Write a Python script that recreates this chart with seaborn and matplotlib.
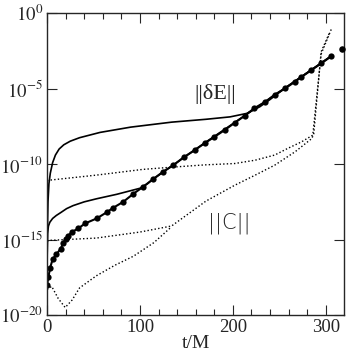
import numpy as np
import pandas as pd
import matplotlib
matplotlib.use('Agg')
import matplotlib.pyplot as plt
import seaborn as sns

# log10 values
t_mark = [0, 1.4, 3.2, 6, 10, 14.7, 17.6, 20, 22.6, 26.5, 33.7, 40.9, 53.4, 64, 71, 82,
          93, 103.5, 114, 125, 136, 147, 159, 170, 180, 191, 202, 212.6, 223, 235,
          245, 256, 266.7, 273, 284.6, 295, 306]
v_mark = [-18.0, -17.5, -16.9, -16.3, -15.98, -15.6, -15.2, -14.95, -14.77, -14.5, -14.26,
          -13.93, -13.6, -13.2, -12.9, -12.5, -11.96, -11.5, -11.0, -10.5, -10.07, -9.55,
          -9.07, -8.6, -8.2, -7.75, -7.26, -6.8, -6.3, -5.87, -5.4, -4.99, -4.55, -4.26,
          -3.77, -3.33, -2.85]
t_last = [317]
v_last = [-2.38]

t_dE1 = [0, 0.5, 1, 2, 3.5, 6, 9, 13, 18, 25, 35, 57, 90, 134, 171, 197, 215, 229, 240,
         256, 273, 295, 306]
v_dE1 = [-17.0, -14.0, -12.5, -11.3, -10.6, -9.9, -9.4, -9.0, -8.72, -8.48, -8.25, -7.9,
         -7.55, -7.22, -7.03, -6.87, -6.64, -6.2, -5.72, -4.97, -4.24, -3.31, -2.83]

t_dE2 = [0, 0.5, 1.5, 3, 6, 10, 15, 21, 28, 40, 53, 75, 100, 108, 114, 136, 170, 202,
         235, 273, 306]
v_dE2 = [-16.4, -14.6, -14.1, -13.85, -13.6, -13.4, -13.2, -12.95, -12.75, -12.5, -12.3,
         -12.0, -11.6, -11.3, -11.0, -10.05, -8.58, -7.24, -5.85, -4.24, -2.83]

t_C1 = [0, 3, 53, 103, 135, 170, 202, 224, 245, 259, 274, 286, 295, 306]
v_C1 = [-11.1, -11.06, -10.73, -10.35, -10.2, -10.05, -9.96, -9.74, -9.4, -8.96, -8.52,
        -8.08, -2.7, -1.05]

t_C2 = [0, 3, 53, 100, 134, 171, 202, 224, 245, 267, 285, 287, 295, 304]
v_C2 = [-15.1, -15.05, -14.9, -14.5, -14.1, -12.45, -11.4, -10.73, -10.07, -9.18, -8.3,
        -8.0, -2.55, -1.3]

t_C3 = [0, 5, 12, 19.5, 27, 35, 53, 73, 93, 115, 134]
v_C3 = [-18.3, -18.1, -18.9, -19.5, -19.0, -18.2, -17.4, -16.7, -16.1, -15.2, -14.15]

sns.set_style('ticks')
plt.rcParams['font.family'] = ['Liberation Serif', 'DejaVu Serif']
plt.rcParams['mathtext.fontset'] = 'stix'
plt.rcParams['axes.unicode_minus'] = False

fig, ax = plt.subplots(figsize=(3.46, 3.56), dpi=100)

dot = (0, (1.0, 1.6))
for tt, vv in [(t_C1, v_C1), (t_C2, v_C2), (t_C3, v_C3)]:
    sns.lineplot(x=tt, y=10.0 ** np.array(vv), ax=ax, color='black', lw=1.0,
                 linestyle=dot, sort=False, estimator=None)
for tt, vv in [(t_dE1, v_dE1), (t_dE2, v_dE2)]:
    sns.lineplot(x=tt, y=10.0 ** np.array(vv), ax=ax, color='black', lw=1.2,
                 sort=False, estimator=None)
sns.lineplot(x=t_mark, y=10.0 ** np.array(v_mark), ax=ax, color='black', lw=1.5,
             marker='o', markersize=4.5, markeredgewidth=0, sort=False, estimator=None)
sns.scatterplot(x=t_last, y=10.0 ** np.array(v_last), ax=ax, color='black', s=22,
                linewidth=0, zorder=5, clip_on=False)

ax.set_yscale('log')
ax.set_xlim(0, 319.5)
ax.set_ylim(1e-20, 1)
ax.set_yticks([1e-20, 1e-15, 1e-10, 1e-5, 1])
ax.set_yticklabels([r'$10^{-20}$', r'$10^{-15}$', r'$10^{-10}$', r'$10^{-5}$', r'$10^{0}$'])
ax.yaxis.set_minor_locator(matplotlib.ticker.NullLocator())
ax.set_xticks([0, 100, 200, 300])
ax.set_xticks(np.arange(0, 320, 20), minor=True)
ax.tick_params(which='both', direction='in', top=True, right=True, width=0.8,
               labelsize=13.5, pad=3)
ax.tick_params(which='major', length=7)
ax.tick_params(which='minor', length=4)
for s in ax.spines.values():
    s.set_linewidth(1.0)
ax.set_xlabel('t/M', fontsize=14, labelpad=-1)

ax.text(181, 10 ** -5.36, '||δE||', fontsize=16, ha='center', va='center')
ax.text(196, 10 ** -13.9, '||C||', fontsize=15, ha='center', va='center',
        family=['DejaVu Sans'], fontweight='light')

fig.subplots_adjust(left=0.136, right=0.994, bottom=0.115, top=0.963)
fig.savefig('out.png', dpi=100)
